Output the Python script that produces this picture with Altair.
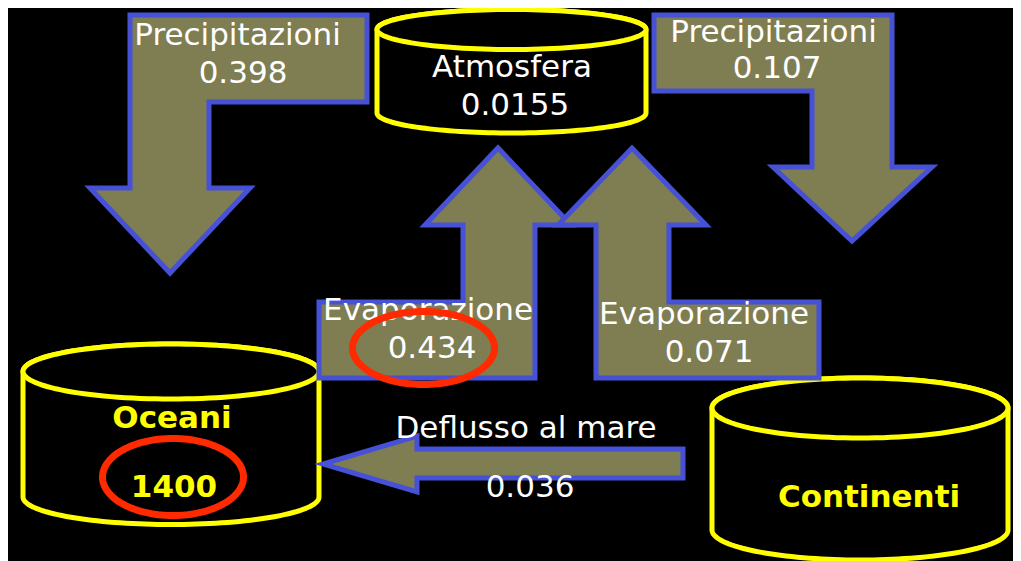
import math
import altair as alt
import pandas as pd

# ---- data (text content of the diagram) ----
flow_labels = ["Precipitazioni", "Atmosfera", "Precipitazioni", "Evaporazione", "Evaporazione", "Deflusso al mare"]
flow_values = ["0.398", "0.0155", "0.107", "0.434", "0.071", "0.036"]
reservoir_labels = ["Oceani", "Continenti"]
reservoir_values = ["1400", ""]

# ---- layout (screen-pixel geometry of the diagram) ----
ARROWS = [
    [(130, 15), (367, 15), (367, 102), (209, 102), (209, 188), (250, 188), (170, 273), (90, 188), (130, 188)],
    [(654, 15), (892, 15), (892, 167), (932, 167), (852, 241), (773, 167), (812, 167), (812, 91), (654, 91)],
    [(319, 302), (463, 302), (463, 225), (425, 225), (498, 148), (571, 225), (535, 225), (535, 378), (319, 378)],
    [(596, 378), (596, 225), (558, 225), (632, 148), (706, 225), (669, 225), (669, 302), (819, 302), (819, 378)],
    [(683, 449), (683, 478), (417, 478), (417, 492), (323, 464), (417, 436), (417, 449)],
]
# cx, rx, top cy, ry, bottom cy
CYLINDERS = [
    (511.5, 134.5, 29.5, 20, 113),
    (171, 148, 371.5, 27.5, 497),
    (860, 148, 408, 30, 530),
]
# cx, cy, rx, ry
HIGHLIGHTS = [(423.5, 348, 71, 36.5), (173, 477, 70.5, 38.5)]

FLOW_POS = [  # (label x, label baseline, value x, value baseline)
    (237.5, 45, 243, 83),
    (512, 77, 515, 115),
    (773.5, 42, 777, 78),
    (428, 320, 432, 358),
    (704, 324, 709, 362),
    (526, 438, 530, 497),
]
RES_POS = [(172, 428, 174, 497), (869, 507, 869, 507)]

OLIVE = "#7f7d52"
BLUE = "#4651d6"
YELLOW = "#ffff00"
RED = "#ff2a00"
FONT = "Comic Sans MS, DejaVu Sans"


def ring(pts):
    pts = [list(p) for p in pts]
    return pts + [pts[0]]


def arc(cx, cy, rx, ry, t0, t1, n=72):
    out = []
    for i in range(n + 1):
        t = math.radians(t0 + (t1 - t0) * i / n)
        out.append((cx + rx * math.cos(t), cy + ry * math.sin(t)))
    return out


def feature(pts):
    return {"type": "Feature", "properties": {},
            "geometry": {"type": "Polygon", "coordinates": [ring(pts)]}}


arrow_feats = [feature(p) for p in ARROWS]
cyl_feats = []
for cx, rx, ty, ry, by in CYLINDERS:
    body = arc(cx, ty, rx, ry, 180, 360) + arc(cx, by, rx, ry, 0, 180)
    cyl_feats.append(feature(body))
    cyl_feats.append(feature(arc(cx, ty, rx, ry, 0, 360, 120)))
ring_feats = [feature(arc(cx, cy, rx, ry, 0, 360, 120)) for cx, cy, rx, ry in HIGHLIGHTS]

rows = []
for lab, val, (lx, ly, vx, vy) in zip(flow_labels, flow_values, FLOW_POS):
    rows.append({"x": lx, "y": ly, "t": lab})
    rows.append({"x": vx, "y": vy, "t": val})
flow_df = pd.DataFrame(rows)

rrows = []
for lab, val, (lx, ly, vx, vy) in zip(reservoir_labels, reservoir_values, RES_POS):
    rrows.append({"x": lx, "y": ly, "t": lab})
    if val:
        rrows.append({"x": vx, "y": vy, "t": val})
res_df = pd.DataFrame(rrows)

proj = dict(type="identity", scale=1, translate=[-8, -8])

cyl = alt.Chart(alt.Data(values=cyl_feats)).mark_geoshape(
    fill="black", stroke=YELLOW, strokeWidth=5).project(**proj)
arrows = alt.Chart(alt.Data(values=arrow_feats)).mark_geoshape(
    fill=OLIVE, stroke=BLUE, strokeWidth=5, strokeJoin="miter").project(**proj)
flow_text = alt.Chart(flow_df).mark_text(
    color="white", font=FONT, fontSize=31, align="center", baseline="alphabetic"
).encode(longitude="x:Q", latitude="y:Q", text="t:N").project(**proj)
res_text = alt.Chart(res_df).mark_text(
    color=YELLOW, font=FONT, fontSize=31, fontWeight="bold", align="center", baseline="alphabetic"
).encode(longitude="x:Q", latitude="y:Q", text="t:N").project(**proj)
rings = alt.Chart(alt.Data(values=ring_feats)).mark_geoshape(
    fill=None, filled=False, stroke=RED, strokeWidth=7).project(**proj)

chart = alt.layer(cyl, arrows, flow_text, res_text, rings).properties(
    width=1005, height=553, padding=0, autosize=alt.AutoSizeParams(type="none"),
    background="black"
).configure_view(stroke=None)

chart.save("out.html", embed_options={"renderer": "svg", "actions": False})
